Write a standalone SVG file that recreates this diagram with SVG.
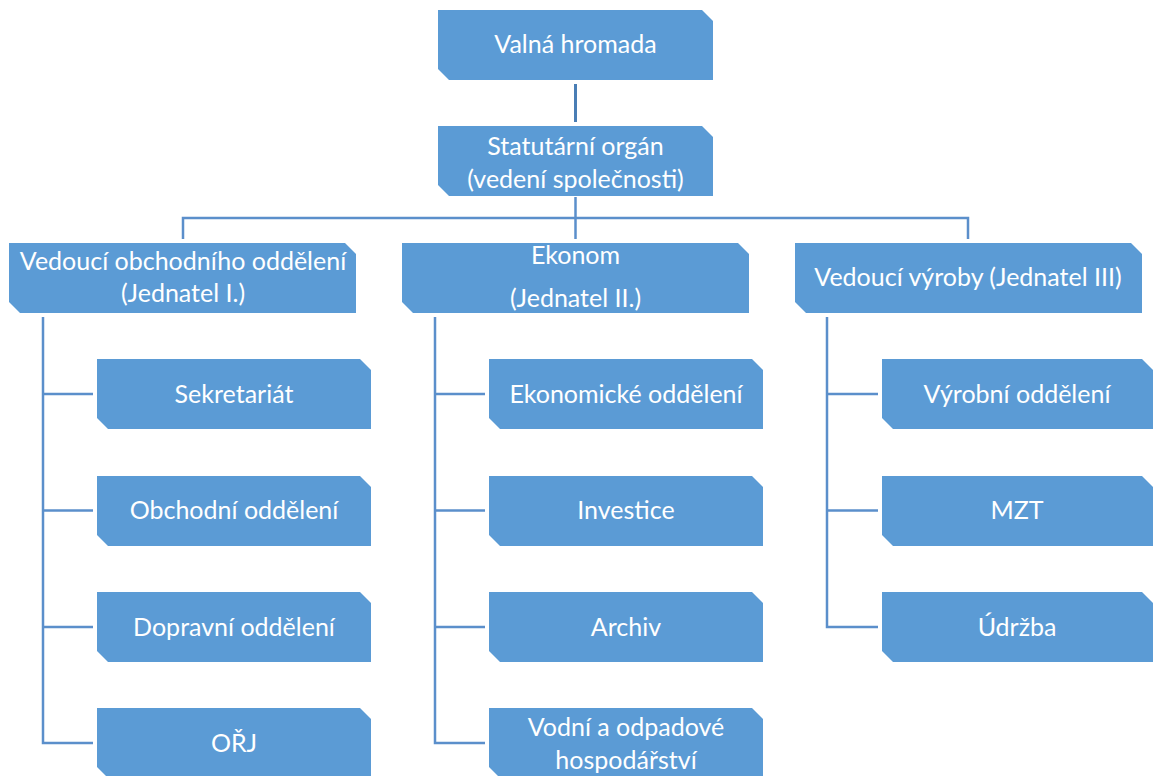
<svg xmlns="http://www.w3.org/2000/svg" width="1153" height="776" viewBox="0 0 1153 776">
<style>
.box{fill:#5B9BD5;}
.t{font-family:Lato,"Liberation Sans",sans-serif;font-size:25px;fill:#FFFFFF;text-anchor:middle;}
.c{fill:none;stroke:#5B8FCB;stroke-width:2.5;}
.c2{fill:none;stroke:#4A7EB5;stroke-width:3;}
</style>
<rect width="1153" height="776" fill="#FFFFFF"/>
<g id="connectors">
<line class="c2" x1="575.5" y1="84" x2="575.5" y2="122"/>
<line class="c" x1="575.5" y1="197" x2="575.5" y2="239"/>
<polyline class="c" points="183,239 183,218 968,218 968,239"/>
<polyline class="c" points="43,317 43,743 93,743"/>
<line class="c" x1="43" y1="394" x2="93" y2="394"/>
<line class="c" x1="43" y1="510.5" x2="93" y2="510.5"/>
<line class="c" x1="43" y1="627" x2="93" y2="627"/>
<polyline class="c" points="435,317 435,743 485,743"/>
<line class="c" x1="435" y1="394" x2="485" y2="394"/>
<line class="c" x1="435" y1="510.5" x2="485" y2="510.5"/>
<line class="c" x1="435" y1="627" x2="485" y2="627"/>
<polyline class="c" points="827,317 827,627 878,627"/>
<line class="c" x1="827" y1="394" x2="878" y2="394"/>
<line class="c" x1="827" y1="510.5" x2="878" y2="510.5"/>
</g>
<g id="valna-hromada">
<path class="box" d="M438,10 H702 L713,21 V80 H449 L438,69 Z"/>
<text class="t" x="575.5" y="53">Valná hromada</text>
</g>
<g id="statutarni-organ">
<path class="box" d="M438,126 H702 L713,137 V196 H449 L438,185 Z"/>
<text class="t" x="575.5" y="155">Statutární orgán</text>
<text class="t" x="575.5" y="188">(vedení společnosti)</text>
</g>
<g id="vedouci-obchodniho">
<path class="box" d="M9,243 H345 L356,254 V313 H20 L9,302 Z"/>
<text class="t" x="183" y="270">Vedoucí obchodního oddělení</text>
<text class="t" x="183" y="302">(Jednatel I.)</text>
</g>
<g id="ekonom">
<path class="box" d="M402,243 H738 L749,254 V313 H413 L402,302 Z"/>
<text class="t" x="575.5" y="264">Ekonom</text>
<text class="t" x="575.5" y="307">(Jednatel II.)</text>
</g>
<g id="vedouci-vyroby">
<path class="box" d="M795,243 H1131 L1142,254 V313 H806 L795,302 Z"/>
<text class="t" x="968" y="286">Vedoucí výroby (Jednatel III)</text>
</g>
<g id="sekretariat">
<path class="box" d="M97,359 H360 L371,370 V429 H108 L97,418 Z"/>
<text class="t" x="234" y="403">Sekretariát</text>
</g>
<g id="obchodni-oddeleni">
<path class="box" d="M97,476 H360 L371,487 V546 H108 L97,535 Z"/>
<text class="t" x="234" y="519">Obchodní oddělení</text>
</g>
<g id="dopravni-oddeleni">
<path class="box" d="M97,592 H360 L371,603 V662 H108 L97,651 Z"/>
<text class="t" x="234" y="636">Dopravní oddělení</text>
</g>
<g id="orj">
<path class="box" d="M97,708 H360 L371,719 V778 H108 L97,767 Z"/>
<text class="t" x="234" y="752">OŘJ</text>
</g>
<g id="ekonomicke-oddeleni">
<path class="box" d="M489,359 H752 L763,370 V429 H500 L489,418 Z"/>
<text class="t" x="626" y="403">Ekonomické oddělení</text>
</g>
<g id="investice">
<path class="box" d="M489,476 H752 L763,487 V546 H500 L489,535 Z"/>
<text class="t" x="626" y="519">Investice</text>
</g>
<g id="archiv">
<path class="box" d="M489,592 H752 L763,603 V662 H500 L489,651 Z"/>
<text class="t" x="626" y="636">Archiv</text>
</g>
<g id="vodni-a-odpadove">
<path class="box" d="M489,708 H752 L763,719 V778 H500 L489,767 Z"/>
<text class="t" x="626" y="736">Vodní a odpadové</text>
<text class="t" x="626" y="769">hospodářství</text>
</g>
<g id="vyrobni-oddeleni">
<path class="box" d="M882,359 H1142 L1153,370 V429 H893 L882,418 Z"/>
<text class="t" x="1017" y="403">Výrobní oddělení</text>
</g>
<g id="mzt">
<path class="box" d="M882,476 H1142 L1153,487 V546 H893 L882,535 Z"/>
<text class="t" x="1017" y="519">MZT</text>
</g>
<g id="udrzba">
<path class="box" d="M882,592 H1142 L1153,603 V662 H893 L882,651 Z"/>
<text class="t" x="1017" y="636">Údržba</text>
</g>
</svg>
